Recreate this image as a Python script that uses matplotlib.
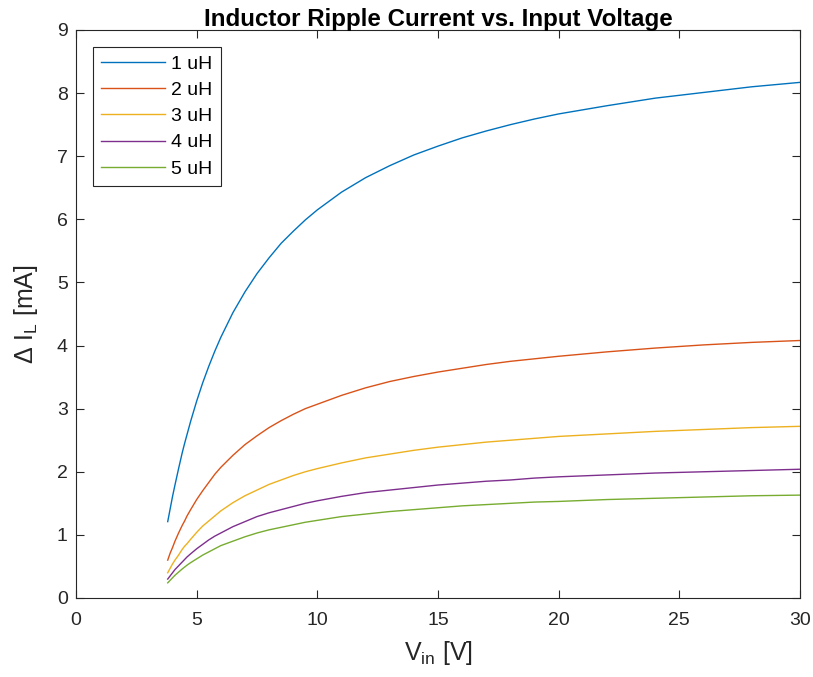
import matplotlib
matplotlib.use("Agg")
import matplotlib.pyplot as plt

plt.rcParams['font.family'] = ['Liberation Sans', 'DejaVu Sans']

# input voltage sample points [V]
vin = [3.8, 3.9, 4.0, 4.1, 4.25, 4.4, 4.5, 4.6, 4.75, 5.0,
       5.25, 5.5, 5.75, 6.0, 6.5, 7.0, 7.5, 8.0, 8.5, 9.0,
       9.5, 10, 11, 12, 13, 14, 15, 16, 17, 18,
       19, 20, 22, 24, 26, 28, 30]

# ripple current [mA]
ripple_1uH = [1.21, 1.41, 1.61, 1.79, 2.05, 2.30, 2.45, 2.59, 2.80, 3.12,
              3.41, 3.67, 3.91, 4.13, 4.52, 4.85, 5.14, 5.39, 5.62, 5.81,
              5.99, 6.15, 6.43, 6.66, 6.85, 7.02, 7.16, 7.29, 7.40, 7.50,
              7.59, 7.67, 7.80, 7.92, 8.01, 8.10, 8.17]
ripple_2uH = [0.60, 0.71, 0.80, 0.90, 1.03, 1.15, 1.22, 1.30, 1.40, 1.56,
              1.70, 1.83, 1.96, 2.07, 2.26, 2.43, 2.57, 2.70, 2.81, 2.91,
              3.00, 3.07, 3.21, 3.33, 3.43, 3.51, 3.58, 3.64, 3.70, 3.75,
              3.79, 3.83, 3.90, 3.96, 4.01, 4.05, 4.08]
ripple_3uH = [0.40, 0.47, 0.54, 0.60, 0.68, 0.77, 0.82, 0.86, 0.93, 1.04,
              1.14, 1.22, 1.30, 1.38, 1.51, 1.62, 1.71, 1.80, 1.87, 1.94,
              2.00, 2.05, 2.14, 2.22, 2.28, 2.34, 2.39, 2.43, 2.47, 2.50,
              2.53, 2.56, 2.60, 2.64, 2.67, 2.70, 2.72]
ripple_4uH = [0.30, 0.35, 0.40, 0.45, 0.51, 0.57, 0.61, 0.65, 0.70, 0.78,
              0.85, 0.92, 0.98, 1.03, 1.13, 1.21, 1.29, 1.35, 1.40, 1.45,
              1.50, 1.54, 1.61, 1.67, 1.71, 1.75, 1.79, 1.82, 1.85, 1.87,
              1.90, 1.92, 1.95, 1.98, 2.00, 2.02, 2.04]
ripple_5uH = [0.24, 0.28, 0.32, 0.36, 0.41, 0.46, 0.49, 0.52, 0.56, 0.62,
              0.68, 0.73, 0.78, 0.83, 0.90, 0.97, 1.03, 1.08, 1.12, 1.16,
              1.20, 1.23, 1.29, 1.33, 1.37, 1.40, 1.43, 1.46, 1.48, 1.50,
              1.52, 1.53, 1.56, 1.58, 1.60, 1.62, 1.63]

labels = ["1 uH", "2 uH", "3 uH", "4 uH", "5 uH"]
series = [ripple_1uH, ripple_2uH, ripple_3uH, ripple_4uH, ripple_5uH]
colors = ["#0072BD", "#D95319", "#EDB120", "#7E2F8E", "#77AC30"]

fig = plt.figure(figsize=(8.13, 6.77), dpi=100)
ax = fig.add_axes([0.0935, 0.1167, 0.8905, 0.839])

for y, lab, c in zip(series, labels, colors):
    ax.plot(vin, y, color=c, lw=1.0, label=lab)

ax.set_xlim(0, 30)
ax.set_ylim(0, 9)
ax.set_xticks(range(0, 31, 5))
ax.set_yticks(range(0, 10))
ax.tick_params(direction="in", top=True, right=True, length=6, width=0.8,
               labelsize=14, colors="#262626")
ax.tick_params(axis="x", pad=10)
ax.tick_params(axis="y", pad=6)
for s in ax.spines.values():
    s.set_color("#262626")
    s.set_linewidth(0.8)

ax.set_xlabel("V$_{\\mathregular{in}}$ [V]", fontsize=18, color="#262626", labelpad=7)
ax.set_ylabel("Δ I$_{\\mathregular{L}}$ [mA]", fontsize=18, color="#262626", labelpad=12)
ax.set_title("Inductor Ripple Current vs. Input Voltage", fontsize=17.4,
             fontweight="bold", pad=3)

leg = ax.legend(loc="upper left", fontsize=14, fancybox=False, framealpha=1,
                edgecolor="#262626", handlelength=3.3, handletextpad=0.3,
                borderpad=0.45, labelspacing=0.44, borderaxespad=0.85)
leg.get_frame().set_linewidth(0.8)

fig.savefig("out.png", dpi=100)
